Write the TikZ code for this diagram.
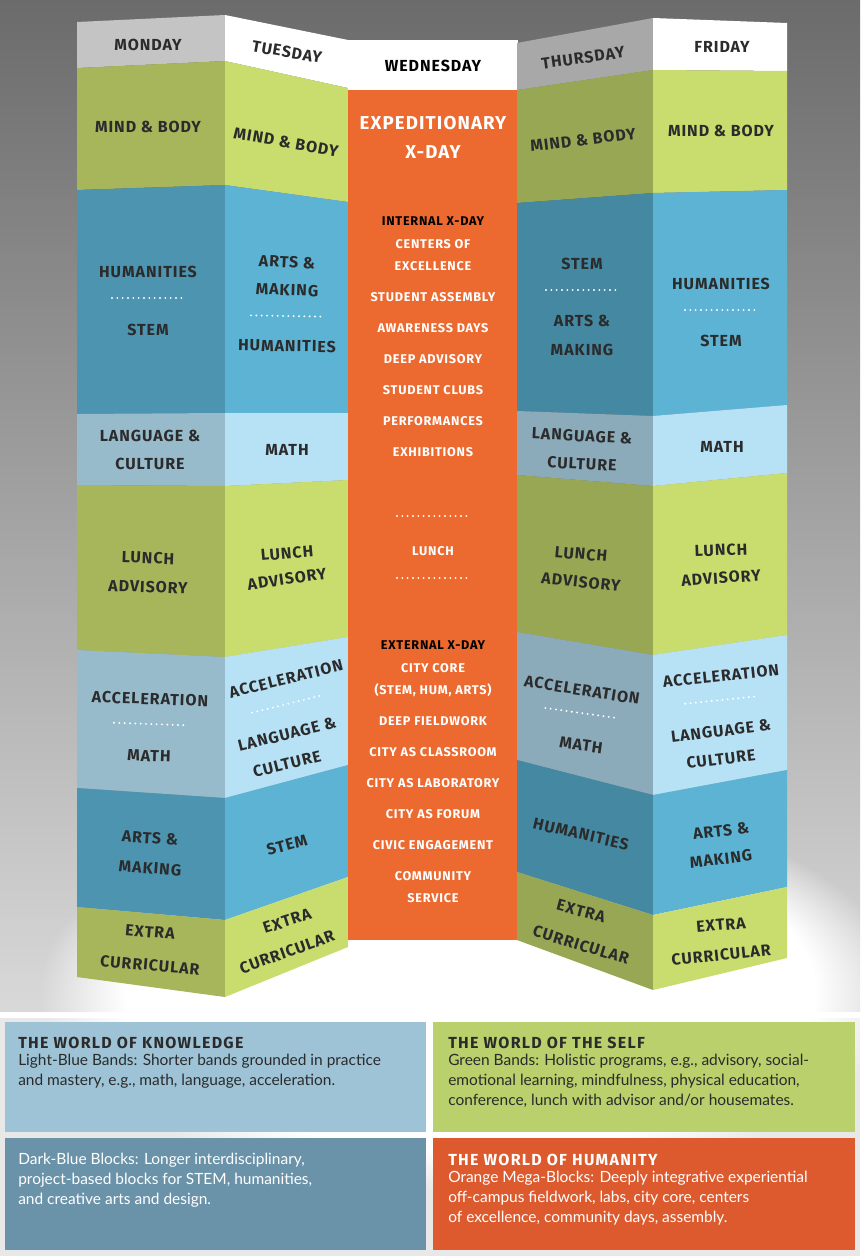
\documentclass[tikz,border=0pt]{standalone}
\usepackage{fontspec}
\setmainfont{Lato}
\newfontfamily\labfont[LetterSpace=6]{Fira Sans}
\newfontfamily\ttlfont[LetterSpace=8]{Fira Sans}
\usetikzlibrary{fadings}
\definecolor{grn}{HTML}{C9DC6E}
\definecolor{dblu}{HTML}{5CB3D4}
\definecolor{lblu}{HTML}{B7E1F5}
\definecolor{orng}{HTML}{EC6A2F}
\definecolor{hgray}{HTML}{C4C4C4}
\definecolor{tgray}{HTML}{A8A8A8}
\definecolor{ink}{HTML}{2B2B2B}
\definecolor{kbox}{HTML}{9EC3D6}
\definecolor{sbox}{HTML}{B9D06C}
\definecolor{dbox}{HTML}{6A93A9}
\definecolor{hbox}{HTML}{DC5A2E}
\definecolor{pagebg}{HTML}{E8E8E8}
\newcounter{labn}
\newcommand{\band}[7]{\fill[#7] (#1,#3) -- (#2,#4) -- (#2,#6) -- (#1,#5) -- cycle;}
\newcommand{\lab}[4]{\stepcounter{labn}\node[labstyle,rotate=#3] (lab\arabic{labn}) at (#1,#2) {#4};}
\newcommand{\olab}[3]{\stepcounter{labn}\node[olabstyle,text=#3] (lab\arabic{labn}) at (433,#1) {#2};}
\newcommand{\dotsline}[3]{\stepcounter{labn}\coordinate (dl\arabic{labn}) at (#1,#2); \draw[white,line width=1.6pt,dash pattern=on 0pt off 4pt,line cap=round,rotate around={#3:(dl\arabic{labn})}] ([xshift=-27pt]dl\arabic{labn}) -- ([xshift=27pt]dl\arabic{labn});}
\tikzset{
 labstyle/.style={text=ink,font=\labfont\bfseries\fontsize{12}{13}\selectfont,inner sep=0pt},
 olabstyle/.style={font=\labfont\bfseries\fontsize{9.5}{10}\selectfont,inner sep=0pt},
 ttl/.style={font=\ttlfont\bfseries\fontsize{12}{14}\selectfont,anchor=west,inner sep=0pt},
 body/.style={font=\fontsize{11.6}{15}\selectfont,anchor=north west,inner sep=0pt,align=left}
}
\begin{document}
\begin{tikzpicture}[x=0.75pt,y=-0.75pt]
\useasboundingbox (0,0) rectangle (860,1256);
% background
\fill[pagebg] (0,0) rectangle (860,1256);
\shade[top color=black!58,bottom color=black!15] (0,0) rectangle (860,1012);
\fill[white,path fading=circle with fuzzy edge 20 percent] (470,990) ellipse (430 and 200);
\fill[white] (0,1012) rectangle (860,1018);
% Monday
\band{77}{225}{22}{15}{68}{61}{hgray}
\band{77}{225}{68}{61}{190}{185}{grn}
\band{77}{225}{190}{185}{414}{413}{dblu}
\band{77}{225}{414}{413}{485}{486}{lblu}
\band{77}{225}{485}{486}{650}{657}{grn}
\band{77}{225}{650}{657}{788}{798}{lblu}
\band{77}{225}{788}{798}{907}{920}{dblu}
\band{77}{225}{907}{920}{977}{997}{grn}
\fill[black,opacity=0.17] (77,68) -- (225,61) -- (225,997) -- (77,977) -- cycle;
% Tuesday
\band{225}{348}{15}{40}{61}{88}{white}
\band{225}{348}{61}{88}{185}{202}{grn}
\band{225}{348}{185}{202}{413}{413}{dblu}
\band{225}{348}{413}{413}{486}{480}{lblu}
\band{225}{348}{486}{480}{657}{637}{grn}
\band{225}{348}{657}{637}{798}{765}{lblu}
\band{225}{348}{798}{765}{920}{877}{dblu}
\band{225}{348}{920}{877}{997}{947}{grn}
% Wednesday
\fill[white] (348,40) rectangle (518,90);
\fill[orng] (348,90) rectangle (518,940);
% Thursday
\band{517}{653}{43}{18}{90}{70}{tgray}
\band{517}{653}{90}{70}{203}{193}{grn}
\band{517}{653}{203}{193}{411}{416}{dblu}
\band{517}{653}{411}{416}{475}{486}{lblu}
\band{517}{653}{475}{486}{632}{655}{grn}
\band{517}{653}{632}{655}{760}{795}{lblu}
\band{517}{653}{760}{795}{872}{915}{dblu}
\band{517}{653}{872}{915}{940}{990}{grn}
\fill[black,opacity=0.24] (517,90) -- (653,70) -- (653,990) -- (517,940) -- cycle;
% Friday
\band{653}{787}{18}{23}{70}{71}{white}
\band{653}{787}{70}{71}{193}{190}{grn}
\band{653}{787}{193}{190}{416}{405}{dblu}
\band{653}{787}{416}{405}{486}{473}{lblu}
\band{653}{787}{486}{473}{655}{635}{grn}
\band{653}{787}{655}{635}{795}{770}{lblu}
\band{653}{787}{795}{770}{915}{887}{dblu}
\band{653}{787}{915}{887}{990}{958}{grn}
% Monday labels
\lab{148}{45}{0}{MONDAY}
\lab{148}{127}{0}{MIND \& BODY}
\lab{148}{272}{0}{HUMANITIES}\dotsline{148}{298}{0}
\lab{148}{330}{0}{STEM}
\lab{150}{436}{0}{LANGUAGE \&}\lab{150}{464}{0}{CULTURE}
\lab{148}{558}{-2}{LUNCH}\lab{148}{587}{-2}{ADVISORY}
\lab{150}{699}{-2}{ACCELERATION}\dotsline{150}{724}{-2}
\lab{149}{756}{-2}{MATH}
\lab{150}{838}{-4}{ARTS \&}\lab{150}{868}{-4}{MAKING}
\lab{150}{932}{-5}{EXTRA}\lab{150}{965}{-5}{CURRICULAR}
% Tuesday labels
\lab{287}{52}{-10}{TUESDAY}
\lab{286}{142}{-10}{MIND \& BODY}
\lab{287}{262}{-3}{ARTS \&}\lab{287}{290}{-2}{MAKING}\dotsline{287}{316}{-1}
\lab{287}{346}{-1}{HUMANITIES}
\lab{287}{450}{0}{MATH}
\lab{287}{553}{5}{LUNCH}\lab{287}{579}{8}{ADVISORY}
\lab{286}{679}{14}{ACCELERATION}\dotsline{287}{704}{14}
\lab{287}{734}{14}{LANGUAGE \&}\lab{287}{764}{14}{CULTURE}
\lab{287}{845}{15}{STEM}
\lab{287}{921}{18}{EXTRA}\lab{287}{952}{20}{CURRICULAR}
% Wednesday labels
\stepcounter{labn}\node[labstyle,font=\labfont\bfseries\fontsize{12}{13}\selectfont,text=black] (wed) at (433,66) {WEDNESDAY};
\stepcounter{labn}\node[text=white,font=\labfont\bfseries\fontsize{14}{15}\selectfont,inner sep=0pt] (exp1) at (433,123) {EXPEDITIONARY};
\stepcounter{labn}\node[text=white,font=\labfont\bfseries\fontsize{14}{15}\selectfont,inner sep=0pt] (exp2) at (433,152) {X-DAY};
\olab{221}{INTERNAL X-DAY}{black}
\olab{244}{CENTERS OF}{white}
\olab{266}{EXCELLENCE}{white}
\olab{297}{STUDENT ASSEMBLY}{white}
\olab{328}{AWARENESS DAYS}{white}
\olab{359}{DEEP ADVISORY}{white}
\olab{390}{STUDENT CLUBS}{white}
\olab{421}{PERFORMANCES}{white}
\olab{452}{EXHIBITIONS}{white}
\dotsline{433}{516}{0}
\olab{551}{LUNCH}{white}
\dotsline{433}{578}{0}
\olab{645}{EXTERNAL X-DAY}{black}
\olab{668}{CITY CORE}{white}
\olab{690}{(STEM, HUM, ARTS)}{white}
\olab{721}{DEEP FIELDWORK}{white}
\olab{752}{CITY AS CLASSROOM}{white}
\olab{783}{CITY AS LABORATORY}{white}
\olab{814}{CITY AS FORUM}{white}
\olab{845}{CIVIC ENGAGEMENT}{white}
\olab{876}{COMMUNITY}{white}
\olab{898}{SERVICE}{white}
% Thursday labels
\lab{583}{58}{8}{THURSDAY}
\lab{583}{140}{7}{MIND \& BODY}
\lab{582}{264}{0}{STEM}\dotsline{582}{290}{0}
\lab{582}{321}{0}{ARTS \&}\lab{582}{350}{0}{MAKING}
\lab{582}{436}{-3}{LANGUAGE \&}\lab{582}{464}{-3}{CULTURE}
\lab{581}{554}{-5}{LUNCH}\lab{581}{582}{-6}{ADVISORY}
\lab{582}{690}{-9}{ACCELERATION}\dotsline{581}{713}{-8}
\lab{581}{745}{-8}{MATH}
\lab{581}{834}{-13}{HUMANITIES}
\lab{581}{911}{-15}{EXTRA}\lab{581}{945}{-17}{CURRICULAR}
% Friday labels
\lab{722}{47}{0}{FRIDAY}
\lab{721}{131}{0}{MIND \& BODY}
\lab{721}{284}{0}{HUMANITIES}\dotsline{721}{310}{0}
\lab{721}{341}{0}{STEM}
\lab{722}{447}{0}{MATH}
\lab{721}{550}{2}{LUNCH}\lab{721}{578}{4}{ADVISORY}
\lab{721}{676}{6}{ACCELERATION}\dotsline{721}{700}{6}
\lab{721}{731}{7}{LANGUAGE \&}\lab{721}{759}{7}{CULTURE}
\lab{721}{831}{7}{ARTS \&}\lab{721}{859}{7}{MAKING}
\lab{721}{925}{5}{EXTRA}\lab{721}{955}{6}{CURRICULAR}
% legend
\fill[kbox] (5,1022) rectangle (426,1132);
\fill[sbox] (433,1022) rectangle (855,1132);
\fill[dbox] (5,1138) rectangle (426,1250);
\fill[hbox] (433,1138) rectangle (855,1250);
\node[ttl,text=ink] (t1) at (18,1043) {THE WORLD OF KNOWLEDGE};
\node[body,text=ink] (b1) at (18,1054) {Light-Blue Bands: Shorter bands grounded in practice\\and mastery, e.g., math, language, acceleration.};
\node[ttl,text=ink] (t2) at (448,1043) {THE WORLD OF THE SELF};
\node[body,text=ink] (b2) at (448,1054) {Green Bands: Holistic programs, e.g., advisory, social-\\emotional learning, mindfulness, physical education,\\conference, lunch with advisor and/or housemates.};
\node[body,text=white] (b3) at (18,1153) {Dark-Blue Blocks: Longer interdisciplinary,\\project-based blocks for STEM, humanities,\\and creative arts and design.};
\node[ttl,text=white] (t4) at (448,1160) {THE WORLD OF HUMANITY};
\node[body,text=white] (b4) at (448,1171) {Orange Mega-Blocks: Deeply integrative experiential\\off-campus fieldwork, labs, city core, centers\\of excellence, community days, assembly.};
\end{tikzpicture}
\end{document}
